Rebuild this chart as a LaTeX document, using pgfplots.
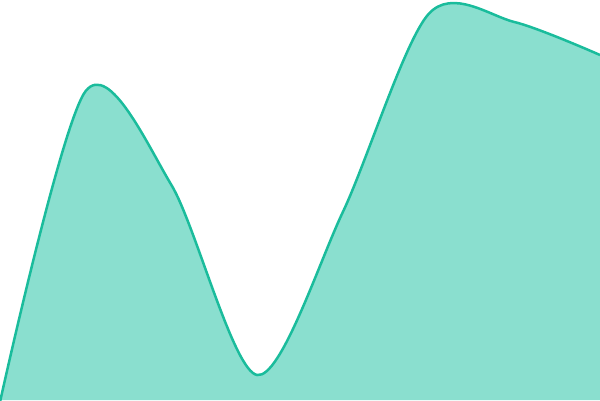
\documentclass[border=0pt]{standalone}
\usepackage{pgfplots}
\pgfplotsset{compat=1.18}
\definecolor{teal1}{HTML}{1ABC9C}
\definecolor{tealfill}{HTML}{8ADFCF}
\begin{document}
\begin{tikzpicture}
\begin{axis}[
    width=600pt, height=400pt,
    scale only axis,
    hide axis,
    xmin=0, xmax=7,
    ymin=0, ymax=400,
    clip=true,
]
\addplot[smooth, tension=0.5, draw=none, fill=tealfill]
    coordinates {(0,-2) (1,309) (2,215) (3,25) (4,188) (5,386) (6,378) (7,345)}
    \closedcycle;
\addplot[smooth, tension=0.5, draw=teal1, line width=2.5pt]
    coordinates {(0,-2) (1,309) (2,215) (3,25) (4,188) (5,386) (6,378) (7,345)};
\end{axis}
\end{tikzpicture}
\end{document}
